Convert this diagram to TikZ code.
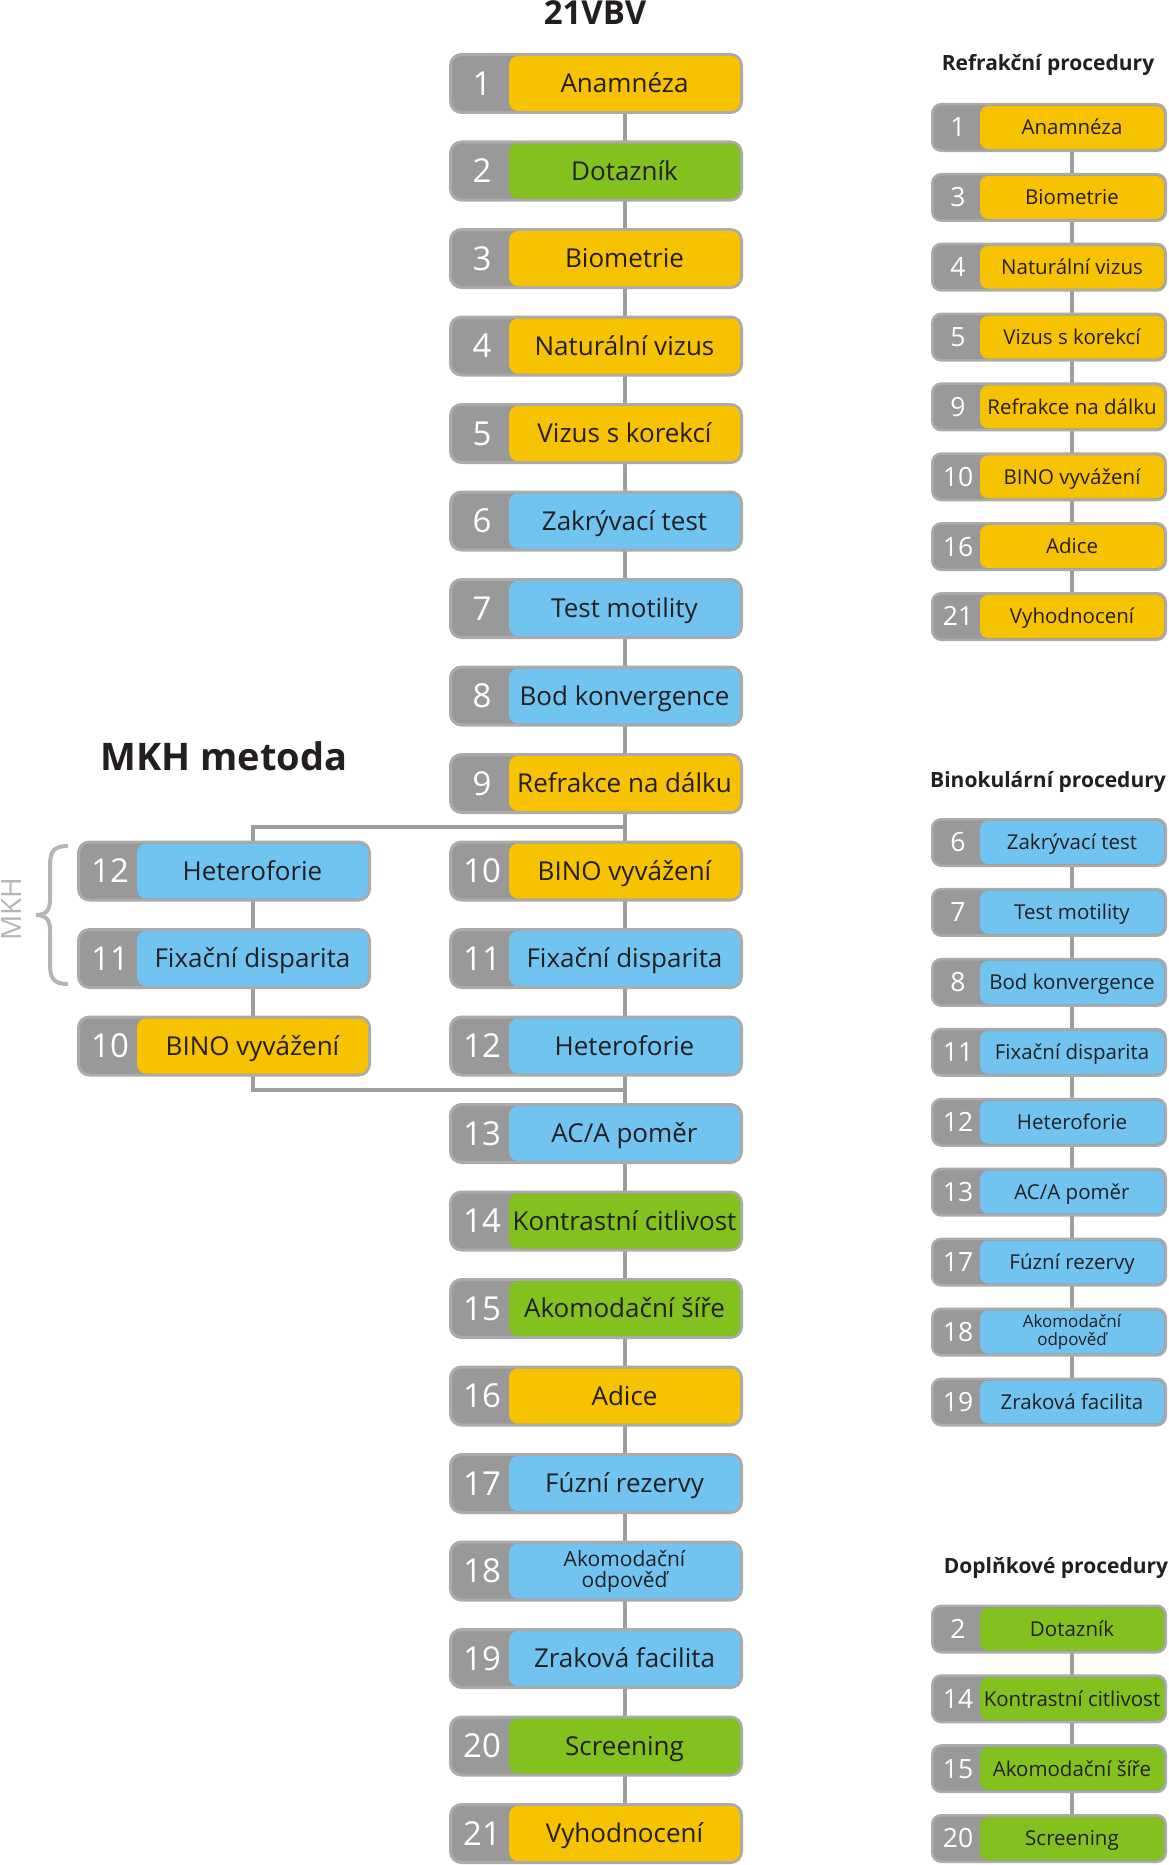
\documentclass[tikz,border=0pt]{standalone}
\usepackage{fontspec}
\setmainfont{Open Sans}
\usetikzlibrary{calc,backgrounds}
\definecolor{yel}{HTML}{F7C300}
\definecolor{blu}{HTML}{71C4F0}
\definecolor{grn}{HTML}{83C11F}
\definecolor{numgray}{HTML}{999999}
\definecolor{edgegray}{HTML}{ABABAB}
\definecolor{linegray}{HTML}{9E9E9E}
\definecolor{ink}{HTML}{231F20}
\definecolor{softgray}{HTML}{B5B5B5}

\tikzset{
 every node/.style={inner sep=0pt, outer sep=0pt},
 outerL/.style={draw=edgegray, fill=numgray, line width=3pt, rounded corners=11pt, minimum width=291pt, minimum height=58pt},
 innerL/.style={rounded corners=9pt, minimum width=231pt, minimum height=55pt, text=ink, font=\fontsize{26}{28}\selectfont, text height=18.6pt, text depth=0pt},
 numL/.style={text=white, font=\fontsize{33}{33}\selectfont, text height=23.6pt, text depth=0pt},
 outerS/.style={draw=edgegray, fill=numgray, line width=2.5pt, rounded corners=9pt, minimum width=233.5pt, minimum height=46.5pt},
 innerS/.style={rounded corners=8pt, minimum width=184pt, minimum height=43pt, text=ink, font=\fontsize{20.5}{22}\selectfont, text height=14.6pt, text depth=0pt},
 numS/.style={text=white, font=\fontsize{26.5}{26.5}\selectfont, text height=18.9pt, text depth=0pt},
 twoL/.style={text height=, text depth=, align=center, font=\fontsize{21}{21}\selectfont},
 twoS/.style={text height=, text depth=, align=center, font=\fontsize{17}{18}\selectfont},
 conn/.style={draw=linegray, line width=4pt},
 connS/.style={draw=linegray, line width=3.5pt},
 title/.style={text=ink, anchor=base, font=\bfseries\fontsize{21}{21}\selectfont},
}

% optional style, name, left x of box, centre y, number, text, colour
\newcommand\bigstep[7][]{%
 \node[outerL] (#2o) at ({#3+147},#4) {};
 \node[innerL, fill=#7, #1] (#2) at ({#3+175.5},#4) {#6};
 \node[numL] (#2n) at ({#3+33},#4) {#5};
}
% optional style, name, centre y, number, text, colour
\newcommand\smallstep[6][]{%
 \node[outerS] (#2o) at (1049,#3) {};
 \node[innerS, fill=#6, #1] (#2) at (1072,#3) {#5};
 \node[numS] (#2n) at (958,#3) {#4};
}

\begin{document}
\begin{tikzpicture}[x=1pt,y=-1pt]
\useasboundingbox (0,0) rectangle (1169,1865);

% titles
\node[title, font=\bfseries\fontsize{33}{33}\selectfont] (t21) at (595,25) {21VBV};
\node[title, font=\bfseries\fontsize{38}{38}\selectfont] (tmkh) at (224,770) {MKH metoda};
\node[title] (tref) at (1048,71) {Refrakční procedury};
\node[title] (tbin) at (1048,787) {Binokulární procedury};
\node[title] (tdop) at (1056,1573) {Doplňkové procedury};

% main column
\bigstep{m1}{449}{83.5}{1}{Anamnéza}{yel}
\bigstep{m2}{449}{171}{2}{Dotazník}{grn}
\bigstep{m3}{449}{258.5}{3}{Biometrie}{yel}
\bigstep{m4}{449}{346}{4}{Naturální vizus}{yel}
\bigstep{m5}{449}{433.5}{5}{Vizus s korekcí}{yel}
\bigstep{m6}{449}{521}{6}{Zakrývací test}{blu}
\bigstep{m7}{449}{608.5}{7}{Test motility}{blu}
\bigstep{m8}{449}{696}{8}{Bod konvergence}{blu}
\bigstep{m9}{449}{783.5}{9}{Refrakce na dálku}{yel}
\bigstep{m10}{449}{871}{10}{BINO vyvážení}{yel}
\bigstep{m11}{449}{958.5}{11}{Fixační disparita}{blu}
\bigstep{m12}{449}{1046}{12}{Heteroforie}{blu}
\bigstep{m13}{449}{1133.5}{13}{AC/A poměr}{blu}
\bigstep{m14}{449}{1221}{14}{Kontrastní citlivost}{grn}
\bigstep{m15}{449}{1308.5}{15}{Akomodační šíře}{grn}
\bigstep{m16}{449}{1396}{16}{Adice}{yel}
\bigstep{m17}{449}{1483.5}{17}{Fúzní rezervy}{blu}
\bigstep[twoL]{m18}{449}{1571}{18}{Akomodační\\odpověď}{blu}
\bigstep{m19}{449}{1658.5}{19}{Zraková facilita}{blu}
\bigstep{m20}{449}{1746}{20}{Screening}{grn}
\bigstep{m21}{449}{1833.5}{21}{Vyhodnocení}{yel}

% MKH column
\bigstep{l12}{77}{871}{12}{Heteroforie}{blu}
\bigstep{l11}{77}{958.5}{11}{Fixační disparita}{blu}
\bigstep{l10}{77}{1046}{10}{BINO vyvážení}{yel}

% MKH label and brace
\node[rotate=90, text=softgray, font=\fontsize{28}{28}\selectfont, text height=20pt, text depth=0pt] (mkh) at (11,909) {MKH};
\draw[softgray, line width=4pt] (68,846) .. controls (53,846) and (50,852) .. (50,866) -- (50,900)
  .. controls (50,911) and (45,915) .. (36,915) .. controls (45,915) and (50,919) .. (50,930)
  -- (50,964) .. controls (50,978) and (53,984) .. (68,984);

% right: refraction
\smallstep{r1}{127.5}{1}{Anamnéza}{yel}
\smallstep{r2}{197.4}{3}{Biometrie}{yel}
\smallstep{r3}{267.2}{4}{Naturální vizus}{yel}
\smallstep{r4}{337.1}{5}{Vizus s korekcí}{yel}
\smallstep{r5}{406.9}{9}{Refrakce na dálku}{yel}
\smallstep{r6}{476.8}{10}{BINO vyvážení}{yel}
\smallstep{r7}{546.6}{16}{Adice}{yel}
\smallstep{r8}{616.5}{21}{Vyhodnocení}{yel}

% right: binocular
\smallstep{b1}{842.5}{6}{Zakrývací test}{blu}
\smallstep{b2}{912.4}{7}{Test motility}{blu}
\smallstep{b3}{982.4}{8}{Bod konvergence}{blu}
\smallstep{b4}{1052.3}{11}{Fixační disparita}{blu}
\smallstep{b5}{1122.3}{12}{Heteroforie}{blu}
\smallstep{b6}{1192.2}{13}{AC/A poměr}{blu}
\smallstep{b7}{1262.1}{17}{Fúzní rezervy}{blu}
\smallstep[twoS]{b8}{1332.1}{18}{Akomodační\\odpověď}{blu}
\smallstep{b9}{1402}{19}{Zraková facilita}{blu}

% right: supplementary
\smallstep{d1}{1629}{2}{Dotazník}{grn}
\smallstep{d2}{1698.8}{14}{Kontrastní citlivost}{grn}
\smallstep{d3}{1768.7}{15}{Akomodační šíře}{grn}
\smallstep{d4}{1838.5}{20}{Screening}{grn}

\coordinate (jtop) at ($(m9.south)!0.5!(m10.north)$);
\coordinate (jbot) at ($(m12.south)!0.5!(m13.north)$);

\begin{pgfonlayer}{background}
\fill[white] (0,0) rectangle (1169,1865);
\foreach \i [count=\j from 2] in {1,...,20} \draw[conn] (m\i.south) -- (m\j.north);
\draw[conn] (l12.south) -- (l11.north);
\draw[conn] (l11.south) -- (l10.north);
\draw[conn] (jtop) -| (l12.north);
\draw[conn] (jbot) -| (l10.south);
\foreach \i [count=\j from 2] in {1,...,7} \draw[connS] (r\i.south) -- (r\j.north);
\foreach \i [count=\j from 2] in {1,...,8} \draw[connS] (b\i.south) -- (b\j.north);
\foreach \i [count=\j from 2] in {1,...,3} \draw[connS] (d\i.south) -- (d\j.north);
\end{pgfonlayer}
\end{tikzpicture}
\end{document}
